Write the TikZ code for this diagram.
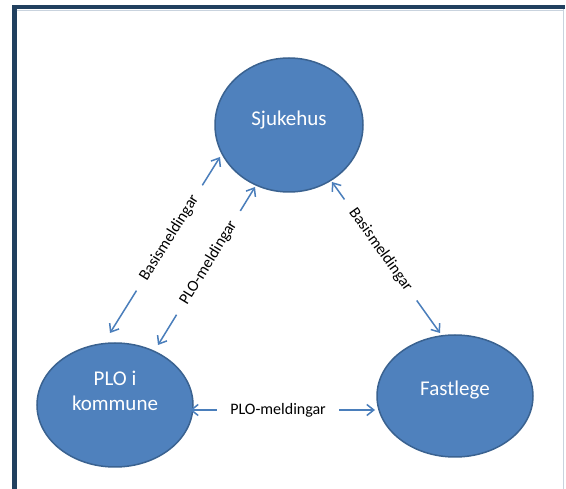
\documentclass[tikz,border=0pt]{standalone}
\usepackage{fontspec}
\setmainfont{Carlito}
\usetikzlibrary{shapes.geometric,arrows.meta}
\definecolor{bfill}{HTML}{4F81BD}
\definecolor{bdraw}{HTML}{3A6290}
\definecolor{arrc}{HTML}{4A7EBB}
\definecolor{frame}{HTML}{21405F}
\definecolor{frameline}{HTML}{C9D3DE}
\tikzset{
  circ/.style={ellipse, draw=bdraw, line width=1.5pt, fill=bfill, inner sep=0pt},
  ctext/.style={text=white, font=\fontsize{21}{25}\selectfont, align=center, inner sep=0pt},
  arr/.style={draw=arrc, line width=1.5pt, {Straight Barb[length=7pt,width=11pt,line width=1.5pt]}-{Straight Barb[length=7pt,width=11pt,line width=1.5pt]}},
  lbl/.style={fill=white, font=\fontsize{16}{19}\selectfont, text=black, inner xsep=13pt, inner ysep=1pt, sloped}
}
\begin{document}
\begin{tikzpicture}[x=1pt,y=-1pt]
\useasboundingbox (0,0) rectangle (566,489);
\fill[white] (0,0) rectangle (566,489);
% frame
\fill[frame] (12,5) rectangle (565,9.5);
\fill[frame] (12,5) rectangle (16.5,489);
\draw[frameline, line width=1pt] (563,9.5) -- (563,489);
\draw[frameline, line width=0.6pt] (16.5,10.2) -- (563,10.2);
% nodes
\node[circ, minimum width=148pt, minimum height=134pt] (sj) at (289,125) {};
\node[ctext] (sjt) at (289,120) {Sjukehus};
\node[circ, minimum width=156pt, minimum height=124pt] (plo) at (115,405) {};
\node[ctext] (plot) at (115,391) {PLO i\\kommune};
\node[circ, minimum width=156pt, minimum height=122pt] (fl) at (455,396) {};
\node[ctext] (flt) at (455,390) {Fastlege};
% arrow end points
\coordinate (a1) at (220,157);
\coordinate (a2) at (110,333);
\coordinate (b1) at (255,187);
\coordinate (b2) at (158,345);
\coordinate (c1) at (332,182);
\coordinate (c2) at (440,333);
\coordinate (d1) at (190,410);
\coordinate (d2) at (375,410);
% connectors
\draw[arr] (a2) -- node[lbl, pos=0.54] {Basismeldingar} (a1);
\draw[arr] (b2) -- node[lbl, pos=0.52] {PLO-meldingar} (b1);
\draw[arr] (c1) -- node[lbl, pos=0.45] {Basismeldingar} (c2);
\draw[arr] (d1) -- node[lbl, pos=0.476] {PLO-meldingar} (d2);
\end{tikzpicture}
\end{document}
